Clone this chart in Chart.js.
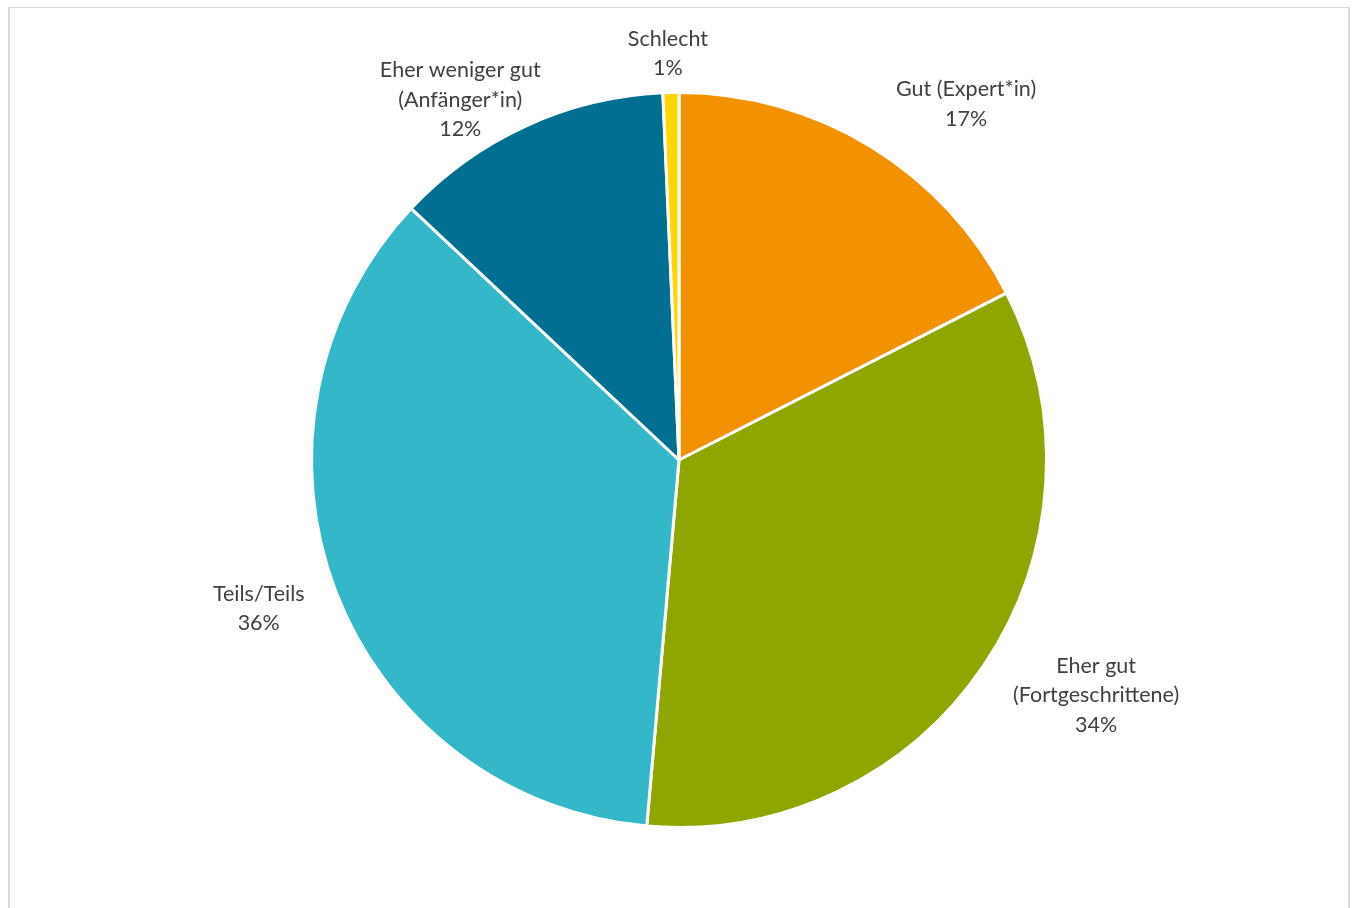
<!DOCTYPE html>
<html>
<head>
<meta charset="utf-8">
<title>Einschätzung</title>
<script src="https://cdn.jsdelivr.net/npm/chart.js"></script>
<style>
body{
    margin:0;
    background:white;
    overflow:hidden;
}
canvas{
    display:block;
}
</style>
</head>
<body>

<canvas id="chart" width="1352" height="908"></canvas>

<script>

// -------- DATA --------
const categories = [
    ['Gut (Expert*in)'],
    ['Eher gut', '(Fortgeschrittene)'],
    ['Teils/Teils'],
    ['Eher weniger gut', '(Anfänger*in)'],
    ['Schlecht']
];
const shares = [17.5, 33.9, 35.6, 12.3, 0.7];
const percentLabels = ['17%', '34%', '36%', '12%', '1%'];

const colors = ['#F39200', '#8FA500', '#35B7CA', '#006F91', '#FFD600'];

// label placement: angle shift from slice middle (deg), distance as share of radius
const labelShift = [7.4, -4.6, 1.4, -6.6, -0.3];
const labelDist = [1.244, 1.303, 1.213, 1.147, 1.107];

const FONT = '21.5px Lato, "Open Sans", sans-serif';
const LINE_H = 29.5;

// -------- PLUGINS --------
const framePlugin = {
    id: 'frame',
    beforeDraw(chart) {
        const ctx = chart.ctx;
        ctx.save();
        ctx.fillStyle = '#d9d9d9';
        ctx.fillRect(8, 7, 2, 901);
        ctx.fillRect(8, 7, 1342, 1);
        ctx.fillRect(1348, 7, 2, 901);
        ctx.restore();
    }
};

const sliceLabels = {
    id: 'sliceLabels',
    afterDatasetsDraw(chart) {
        const ctx = chart.ctx;
        const arcs = chart.getDatasetMeta(0).data;
        ctx.save();
        ctx.font = FONT;
        ctx.fillStyle = '#404040';
        ctx.textAlign = 'center';
        ctx.textBaseline = 'middle';
        arcs.forEach((arc, i) => {
            const mid = (arc.startAngle + arc.endAngle) / 2 + labelShift[i] * Math.PI / 180;
            const r = arc.outerRadius * labelDist[i];
            const cx = arc.x + Math.cos(mid) * r;
            const cy = arc.y + Math.sin(mid) * r;
            const lines = categories[i].concat([percentLabels[i]]);
            const top = cy - (lines.length - 1) * LINE_H / 2;
            lines.forEach((t, k) => ctx.fillText(t, cx, top + k * LINE_H));
        });
        ctx.restore();
    }
};

// -------- CHART --------
new Chart(document.getElementById('chart'), {
    type: 'pie',
    data: {
        labels: categories.map(c => c.join(' ')),
        datasets: [{
            data: shares,
            backgroundColor: colors,
            borderColor: '#ffffff',
            borderWidth: 3
        }]
    },
    options: {
        responsive: false,
        animation: false,
        devicePixelRatio: 1,
        layout: {
            padding: { left: 310, right: 304, top: 91, bottom: 79 }
        },
        plugins: {
            legend: { display: false },
            tooltip: { enabled: false }
        }
    },
    plugins: [framePlugin, sliceLabels]
});

</script>

</body>
</html>
